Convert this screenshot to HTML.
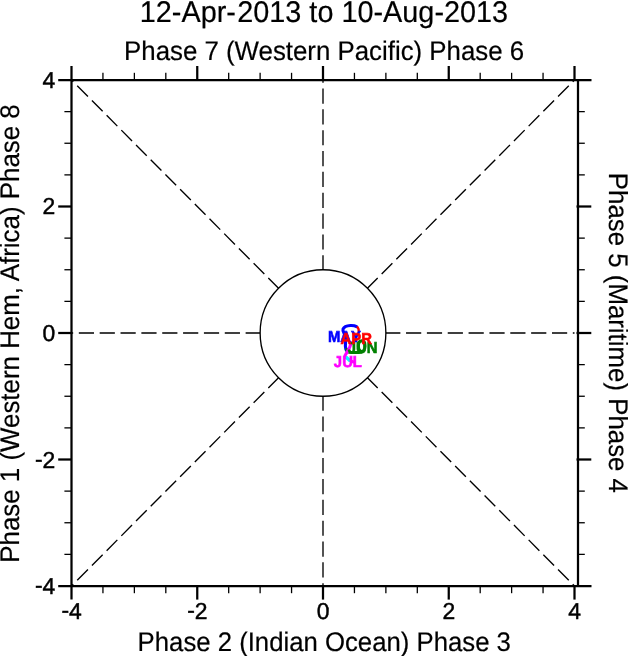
<!DOCTYPE html>
<html><head><meta charset="utf-8"><title>MJO Phase Diagram</title>
<style>html,body{margin:0;padding:0;background:#fff;}body{width:628px;height:656px;overflow:hidden;}svg{display:block;will-change:transform;}text{font-family:"Liberation Sans",sans-serif;fill:#000;text-rendering:geometricPrecision;}</style>
</head><body>
<svg width="628" height="656" viewBox="0 0 628 656">
<g stroke="#000" stroke-width="1.35" fill="none" stroke-dasharray="15.2 5.65" stroke-dashoffset="0.7">
<line x1="260.12" y1="333.0" x2="71.5" y2="333.0"/>
<line x1="385.88" y1="333.0" x2="574.5" y2="333.0"/>
<line x1="323.0" y1="269.75" x2="323.0" y2="80.0"/>
<line x1="323.0" y1="396.25" x2="323.0" y2="586.0"/>
<line x1="367.46" y1="377.72" x2="574.50" y2="586.00"/>
<line x1="367.46" y1="288.28" x2="574.50" y2="80.00"/>
<line x1="278.54" y1="377.72" x2="71.50" y2="586.00"/>
<line x1="278.54" y1="288.28" x2="71.50" y2="80.00"/>
</g>
<ellipse cx="323.0" cy="333.0" rx="62.875" ry="63.25" fill="none" stroke="#000" stroke-width="1.35"/>
<g stroke="#000" stroke-width="2.25" fill="none">
<line x1="71.5" y1="66" x2="71.5" y2="599.6"/>
<line x1="58.2" y1="80.0" x2="591.5" y2="80.0"/>
<line x1="58.2" y1="586.0" x2="591.5" y2="586.0"/>
<line x1="578.0" y1="80.0" x2="578.0" y2="586.0"/>
<line x1="197.25" y1="66" x2="197.25" y2="80.0"/>
<line x1="197.25" y1="586.0" x2="197.25" y2="599.6"/>
<line x1="323.00" y1="66" x2="323.00" y2="80.0"/>
<line x1="323.00" y1="586.0" x2="323.00" y2="599.6"/>
<line x1="448.75" y1="66" x2="448.75" y2="80.0"/>
<line x1="448.75" y1="586.0" x2="448.75" y2="599.6"/>
<line x1="574.50" y1="66" x2="574.50" y2="80.0"/>
<line x1="574.50" y1="586.0" x2="574.50" y2="599.6"/>
<line x1="58.2" y1="459.50" x2="71.5" y2="459.50"/>
<line x1="576.5" y1="459.50" x2="591.3" y2="459.50"/>
<line x1="58.2" y1="333.00" x2="71.5" y2="333.00"/>
<line x1="576.5" y1="333.00" x2="591.3" y2="333.00"/>
<line x1="58.2" y1="206.50" x2="71.5" y2="206.50"/>
<line x1="576.5" y1="206.50" x2="591.3" y2="206.50"/>
</g>
<g stroke="#000" stroke-width="1.3" fill="none">
<line x1="102.94" y1="72.8" x2="102.94" y2="80.0"/>
<line x1="102.94" y1="586.0" x2="102.94" y2="593.2"/>
<line x1="64.4" y1="554.38" x2="71.5" y2="554.38"/>
<line x1="578.0" y1="554.38" x2="584.8" y2="554.38"/>
<line x1="134.38" y1="72.8" x2="134.38" y2="80.0"/>
<line x1="134.38" y1="586.0" x2="134.38" y2="593.2"/>
<line x1="64.4" y1="522.75" x2="71.5" y2="522.75"/>
<line x1="578.0" y1="522.75" x2="584.8" y2="522.75"/>
<line x1="165.81" y1="72.8" x2="165.81" y2="80.0"/>
<line x1="165.81" y1="586.0" x2="165.81" y2="593.2"/>
<line x1="64.4" y1="491.12" x2="71.5" y2="491.12"/>
<line x1="578.0" y1="491.12" x2="584.8" y2="491.12"/>
<line x1="228.69" y1="72.8" x2="228.69" y2="80.0"/>
<line x1="228.69" y1="586.0" x2="228.69" y2="593.2"/>
<line x1="64.4" y1="427.88" x2="71.5" y2="427.88"/>
<line x1="578.0" y1="427.88" x2="584.8" y2="427.88"/>
<line x1="260.12" y1="72.8" x2="260.12" y2="80.0"/>
<line x1="260.12" y1="586.0" x2="260.12" y2="593.2"/>
<line x1="64.4" y1="396.25" x2="71.5" y2="396.25"/>
<line x1="578.0" y1="396.25" x2="584.8" y2="396.25"/>
<line x1="291.56" y1="72.8" x2="291.56" y2="80.0"/>
<line x1="291.56" y1="586.0" x2="291.56" y2="593.2"/>
<line x1="64.4" y1="364.62" x2="71.5" y2="364.62"/>
<line x1="578.0" y1="364.62" x2="584.8" y2="364.62"/>
<line x1="354.44" y1="72.8" x2="354.44" y2="80.0"/>
<line x1="354.44" y1="586.0" x2="354.44" y2="593.2"/>
<line x1="64.4" y1="301.38" x2="71.5" y2="301.38"/>
<line x1="578.0" y1="301.38" x2="584.8" y2="301.38"/>
<line x1="385.88" y1="72.8" x2="385.88" y2="80.0"/>
<line x1="385.88" y1="586.0" x2="385.88" y2="593.2"/>
<line x1="64.4" y1="269.75" x2="71.5" y2="269.75"/>
<line x1="578.0" y1="269.75" x2="584.8" y2="269.75"/>
<line x1="417.31" y1="72.8" x2="417.31" y2="80.0"/>
<line x1="417.31" y1="586.0" x2="417.31" y2="593.2"/>
<line x1="64.4" y1="238.12" x2="71.5" y2="238.12"/>
<line x1="578.0" y1="238.12" x2="584.8" y2="238.12"/>
<line x1="480.19" y1="72.8" x2="480.19" y2="80.0"/>
<line x1="480.19" y1="586.0" x2="480.19" y2="593.2"/>
<line x1="64.4" y1="174.88" x2="71.5" y2="174.88"/>
<line x1="578.0" y1="174.88" x2="584.8" y2="174.88"/>
<line x1="511.62" y1="72.8" x2="511.62" y2="80.0"/>
<line x1="511.62" y1="586.0" x2="511.62" y2="593.2"/>
<line x1="64.4" y1="143.25" x2="71.5" y2="143.25"/>
<line x1="578.0" y1="143.25" x2="584.8" y2="143.25"/>
<line x1="543.06" y1="72.8" x2="543.06" y2="80.0"/>
<line x1="543.06" y1="586.0" x2="543.06" y2="593.2"/>
<line x1="64.4" y1="111.62" x2="71.5" y2="111.62"/>
<line x1="578.0" y1="111.62" x2="584.8" y2="111.62"/>
</g>
<text transform="translate(71.6 619) scale(0.995 1)" font-size="23.0" text-anchor="middle" stroke="#000" stroke-width="0.45"><tspan dy="-1">-</tspan><tspan dy="1">4</tspan></text>
<text transform="translate(55.3 594) scale(0.995 1)" font-size="23.0" text-anchor="end" stroke="#000" stroke-width="0.45"><tspan dy="-1">-</tspan><tspan dy="1">4</tspan></text>
<text transform="translate(197.35 619) scale(0.995 1)" font-size="23.0" text-anchor="middle" stroke="#000" stroke-width="0.45"><tspan dy="-1">-</tspan><tspan dy="1">2</tspan></text>
<text transform="translate(55.3 468) scale(0.995 1)" font-size="23.0" text-anchor="end" stroke="#000" stroke-width="0.45"><tspan dy="-1">-</tspan><tspan dy="1">2</tspan></text>
<text transform="translate(323.1 619) scale(0.995 1)" font-size="23.0" text-anchor="middle" stroke="#000" stroke-width="0.45">0</text>
<text transform="translate(55.3 341) scale(0.995 1)" font-size="23.0" text-anchor="end" stroke="#000" stroke-width="0.45">0</text>
<text transform="translate(448.85 619) scale(0.995 1)" font-size="23.0" text-anchor="middle" stroke="#000" stroke-width="0.45">2</text>
<text transform="translate(55.3 214) scale(0.995 1)" font-size="23.0" text-anchor="end" stroke="#000" stroke-width="0.45">2</text>
<text transform="translate(574.6 619) scale(0.995 1)" font-size="23.0" text-anchor="middle" stroke="#000" stroke-width="0.45">4</text>
<text transform="translate(55.3 88) scale(0.995 1)" font-size="23.0" text-anchor="end" stroke="#000" stroke-width="0.45">4</text>
<text transform="translate(323.95 22) scale(0.961 1)" font-size="30.0" text-anchor="middle" stroke="#000" stroke-width="0.2">12-Apr-<tspan dx="1.35">2013 to 10-Aug-2013</tspan></text>
<text transform="translate(324.1 60) scale(0.9606 1)" font-size="26.9" text-anchor="middle" stroke="#000" stroke-width="0.2">Phase 7 (Western Pacific) Phase 6</text>
<text transform="translate(324.25 651) scale(0.9568 1)" font-size="26.9" text-anchor="middle" stroke="#000" stroke-width="0.2">Phase 2 (Indian Ocean) Phase 3</text>
<text transform="translate(19.0 333.5) rotate(-90) scale(0.9627 1)" font-size="26.9" text-anchor="middle" stroke="#000" stroke-width="0.2">Phase 1 (Western Hem, Africa) Phase 8</text>
<text transform="translate(608.8 332.9) rotate(90) scale(0.9606 1)" font-size="26.9" text-anchor="middle" stroke="#000" stroke-width="0.2">Phase 5 (Maritime) Phase 4</text>
<g fill="none" stroke-width="3.1" stroke-linecap="round" stroke-linejoin="round">
<path d="M356.6 326.6 C355 325.7 352.6 325.4 350.4 325.5 C346.8 325.7 343.8 327.2 343 329.2 C342.5 330.6 343.4 332 344.2 333.4 C345.5 336 346 339 345.6 342 C345.3 344.5 345.2 347 345.8 349 C346.1 350 346.5 350.6 347 351" stroke="#0000ff"/>
<path d="M357.6 327.2 C358.5 328.4 358.9 329.8 358.7 331.6" stroke="#ff0000" stroke-width="2.4"/>
<path d="M346.8 349.4 C347.2 351.6 348.6 352.5 351 352.5 L359 352.5 C362.5 352.5 365 350 365 346.3 C365 342.8 363.6 340.9 361.6 340.9 C359.6 340.9 358.4 343 358.4 346 C358.4 349 359.6 351 361.4 351.4" stroke="#008000"/>
<path d="M351.2 342.8 C350.4 346 348.6 349.8 347 352.4 C346 354 345 355.2 345 356.2 C345 357 345.8 357.4 346.6 357.8" stroke="#ff00ff"/>
<path d="M349.4 360 C350.8 361 352.4 361.8 353.8 362" stroke="#ff00ff"/>
<path d="M347 357.8 L349.2 360.2" stroke="#00ffff" stroke-width="3.2"/>
</g>
<text transform="translate(347.9 367) scale(0.94 1)" font-size="15.8" font-weight="bold" text-anchor="middle" style="fill:#ff00ff;font-kerning:none" stroke="#ff00ff" stroke-width="0.6">JUL</text>
<text transform="translate(362.6 352.8) scale(0.94 1)" font-size="15.8" font-weight="bold" text-anchor="middle" style="fill:#008000;font-kerning:none" stroke="#008000" stroke-width="0.6">JUN</text>
<text transform="translate(344.4 341.8) scale(0.94 1)" font-size="15.8" font-weight="bold" text-anchor="middle" style="fill:#0000ff;font-kerning:none" stroke="#0000ff" stroke-width="0.6">MAY</text>
<text transform="translate(356.2 343.6) scale(0.94 1)" font-size="15.8" font-weight="bold" text-anchor="middle" style="fill:#ff0000;font-kerning:none" stroke="#ff0000" stroke-width="0.6">APR</text>
</svg>
</body></html>
